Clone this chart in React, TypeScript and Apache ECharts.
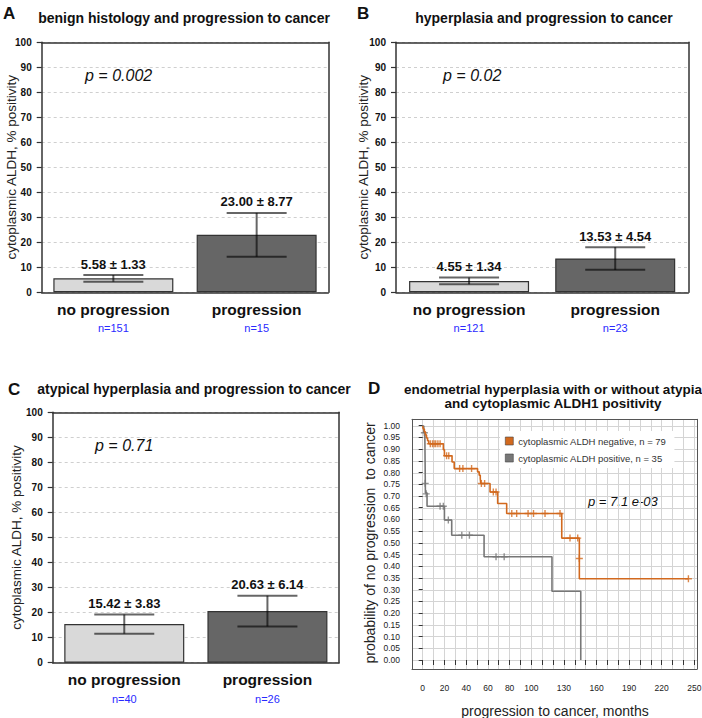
import React, { useEffect, useRef } from 'react';
import * as echarts from 'echarts';

const FONT = '"Liberation Sans", Arial, Helvetica, sans-serif';

// ---- bar panels data ----
const categories = ['no progression', 'progression'];
const nA = ['n=151', 'n=15'];
const meanA = [5.58, 23.0];
const sdA = [1.33, 8.77];
const nB = ['n=121', 'n=23'];
const meanB = [4.55, 13.53];
const sdB = [1.34, 4.54];
const nC = ['n=40', 'n=26'];
const meanC = [15.42, 20.63];
const sdC = [3.83, 6.14];
const barColors = ['#d9d9d9', '#666666'];
const titlesABC = [
  'benign histology and progression to cancer',
  'hyperplasia and progression to cancer',
  'atypical hyperplasia and progression to cancer',
];
const pTexts = ['p = 0.002', 'p = 0.02', 'p = 0.71', 'p = 7.1 e-03'];
const yNameBar = 'cytoplasmic ALDH, % positivity';

// ---- Kaplan-Meier panel data ----
const kmNegative: number[][] = [
  [0, 1.0], [0.5, 0.987], [1.5, 0.975], [2.5, 0.962], [3.5, 0.949], [4.5, 0.937], [5.5, 0.924],
  [19, 0.899], [20, 0.873], [27, 0.846], [29, 0.818], [50.5, 0.804], [52, 0.79], [53, 0.775],
  [53.5, 0.754], [62, 0.718], [69, 0.669], [77.3, 0.626], [128, 0.521], [144.2, 0.347], [244.6, 0.347],
];
const kmPositive: number[][] = [
  [0, 1.0], [1, 0.971], [2, 0.943], [2.5, 0.714], [4, 0.657], [20, 0.598], [26.7, 0.533],
  [56.5, 0.441], [119, 0.294], [145.5, 0.0],
];
const censorNegative: number[][] = [
  [7, 0.924], [9, 0.924], [10.5, 0.924], [12, 0.924], [14, 0.924], [16, 0.924],
  [22, 0.873], [24, 0.873], [34, 0.818], [37, 0.818], [45, 0.818], [54, 0.754], [57, 0.754],
  [65, 0.718], [67.5, 0.718], [82, 0.626], [86.5, 0.626], [97, 0.626], [102, 0.626], [112.6, 0.626],
  [126.4, 0.626], [135.6, 0.521], [142.7, 0.521], [144.2, 0.434], [244.6, 0.347],
];
const censorPositive: number[][] = [
  [1.5, 0.971], [2.3, 0.755], [3.2, 0.71], [16, 0.657], [19, 0.657], [23.6, 0.598],
  [36, 0.533], [43, 0.533], [67.5, 0.441], [75, 0.441],
];
const xLabelsD = [0, 20, 40, 60, 80, 100, 130, 160, 190, 220, 250];
const legendD = ['cytoplasmic ALDH negative, n = 79', 'cytoplasmic ALDH positive, n = 35'];
const colorNeg = '#d2691e';
const colorPos = '#777777';

const PLUS = 'path://M4,0H6V4H10V6H6V10H4V6H0V4H4Z';

function txt(text: string, x: number, y: number, size: number, opts: any = {}) {
  const align = opts.align || 'left';
  return {
    type: 'text',
    x,
    y,
    silent: true,
    style: {
      text,
      fontSize: size,
      fontFamily: FONT,
      fontWeight: opts.weight || 'normal',
      fontStyle: opts.italic ? 'italic' : 'normal',
      fill: opts.color || '#111',
      textAlign: align,
      align,
      textVerticalAlign: 'middle',
      verticalAlign: 'middle',
    },
  };
}

// frame axis helper: draws only an axis line (box edge) above everything
function frameX(gridIndex: number, position: string, type: string, extra: any, line: any) {
  return {
    type,
    gridIndex,
    position,
    ...extra,
    axisLine: { ...line, onZero: false },
    axisTick: { show: false },
    axisLabel: { show: false },
    splitLine: { show: false },
    z: 10,
  };
}

export default function App() {
  const ref = useRef<HTMLDivElement>(null);
  useEffect(() => {
    if (!ref.current) return;
    const chart = echarts.init(ref.current, undefined, { renderer: 'svg' });

    const panels = [
      { grid: { left: 41.7, top: 42.3, width: 286.6, height: 250 }, mean: meanA, sd: sdA, n: nA, nameGap: 23 },
      { grid: { left: 396, top: 42.3, width: 292.3, height: 250 }, mean: meanB, sd: sdB, n: nB, nameGap: 26 },
      { grid: { left: 52.7, top: 412.3, width: 286.3, height: 250.4 }, mean: meanC, sd: sdC, n: nC, nameGap: 29 },
    ];

    const grids: any[] = [];
    const xAxes: any[] = [];
    const yAxes: any[] = [];
    const series: any[] = [];
    const boxLine = { show: true, lineStyle: { color: '#333', width: 1.5 } };

    panels.forEach((p, i) => {
      grids.push({
        ...p.grid,
        show: false,
        outerBoundsMode: 'none',
        containLabel: false,
      });
      xAxes.push({
        type: 'category',
        gridIndex: i,
        data: categories,
        axisTick: { show: false },
        axisLine: { show: false },
        axisLabel: {
          interval: 0,
          margin: 7,
          formatter: (v: string, idx: number) => `{a|${v}}\n{b|${p.n[idx]}}`,
          rich: {
            a: { fontSize: 15.5, fontWeight: 'bold', color: '#111', lineHeight: 20, fontFamily: FONT },
            b: { fontSize: 11, color: '#2a2aff', lineHeight: 18, fontFamily: FONT },
          },
        },
      });
      yAxes.push({
        type: 'value',
        gridIndex: i,
        min: 0,
        max: 100,
        interval: 10,
        axisLine: { show: false },
        axisTick: { show: true, length: 5, lineStyle: { color: '#333', width: 1.2 } },
        axisLabel: { fontSize: 10, fontWeight: 'bold', color: '#111', margin: 10, fontFamily: FONT },
        splitLine: { show: true, lineStyle: { type: [3, 3], color: '#cfcfcf', width: 1 } },
        name: yNameBar,
        nameLocation: 'middle',
        nameGap: p.nameGap,
        nameMoveOverlap: false,
        nameTextStyle: { fontSize: 13.5, color: '#222', fontFamily: FONT },
      });
      series.push({
        type: 'bar',
        xAxisIndex: i,
        yAxisIndex: i,
        barWidth: 120,
        data: p.mean.map((v, j) => ({ value: v, itemStyle: { color: barColors[j] } })),
        itemStyle: { borderColor: '#333', borderWidth: 1.2 },
        silent: true,
      });
      series.push({
        type: 'custom',
        xAxisIndex: i,
        yAxisIndex: i,
        silent: true,
        z: 5,
        data: p.mean.map((m, j) => [j, m, p.sd[j]]),
        encode: { x: 0, y: 1 },
        renderItem: (params: any, api: any) => {
          const idx = api.value(0);
          const m = api.value(1);
          const s = api.value(2);
          const top = api.coord([idx, m + s]);
          const bot = api.coord([idx, m - s]);
          const hw = 30;
          const st = { stroke: 'rgba(0,0,0,0.6)', lineWidth: 2 };
          return {
            type: 'group',
            children: [
              { type: 'line', shape: { x1: top[0], y1: top[1], x2: bot[0], y2: bot[1] }, style: st },
              { type: 'line', shape: { x1: top[0] - hw, y1: top[1], x2: top[0] + hw, y2: top[1] }, style: st },
              { type: 'line', shape: { x1: bot[0] - hw, y1: bot[1], x2: bot[0] + hw, y2: bot[1] }, style: st },
              {
                type: 'text',
                x: top[0],
                y: top[1] - 11,
                style: {
                  text: `${m.toFixed(2)} ± ${s.toFixed(2)}`,
                  fontSize: 13,
                  fontWeight: 'bold',
                  fontFamily: FONT,
                  fill: '#111',
                  textAlign: 'center',
                  align: 'center',
                  textVerticalAlign: 'middle',
                  verticalAlign: 'middle',
                },
              },
            ],
          };
        },
      });
    });

    // Panel D: box grid (index 3) for data and grid lines
    grids.push({
      left: 412,
      top: 419.3,
      width: 285,
      height: 249.7,
      show: false,
      outerBoundsMode: 'none',
      containLabel: false,
    });
    const dxIdx = xAxes.length;
    xAxes.push({
      type: 'value',
      gridIndex: 3,
      min: -9.85,
      max: 252.5,
      minInterval: 10,
      maxInterval: 10,
      splitNumber: 26,
      axisLine: { show: false },
      axisTick: { show: false },
      axisLabel: { show: false },
      splitLine: { show: true, lineStyle: { color: '#d4d4d4', width: 1 } },
    });
    const dyIdx = yAxes.length;
    yAxes.push({
      type: 'value',
      gridIndex: 3,
      min: -0.0384,
      max: 1.0286,
      minInterval: 0.05,
      maxInterval: 0.05,
      splitNumber: 21,
      axisLine: { show: false },
      axisTick: { show: false },
      axisLabel: { show: false },
      splitLine: { show: true, lineStyle: { color: '#d4d4d4', width: 1 } },
    });
    // Panel D: axis grid (index 4) for ticks and labels
    grids.push({
      left: 422.7,
      top: 425.7,
      width: 271.6,
      height: 234.3,
      show: false,
      outerBoundsMode: 'none',
      containLabel: false,
    });
    xAxes.push({
      type: 'value',
      gridIndex: 4,
      min: 0,
      max: 250,
      interval: 10,
      offset: 9,
      axisLine: { show: false },
      axisTick: { show: true, length: 5, lineStyle: { color: '#333', width: 1 } },
      axisLabel: {
        fontSize: 8.5,
        color: '#222',
        margin: 14,
        fontFamily: FONT,
        formatter: (v: number) => (xLabelsD.indexOf(Math.round(v)) >= 0 ? String(Math.round(v)) : ''),
      },
      splitLine: { show: false },
    });
    yAxes.push({
      type: 'value',
      gridIndex: 4,
      min: 0,
      max: 1,
      interval: 0.05,
      offset: 10.7,
      axisLine: { show: false },
      axisTick: { show: true, length: 4, lineStyle: { color: '#333', width: 1 } },
      axisLabel: {
        fontSize: 8.5,
        color: '#222',
        margin: 12,
        fontFamily: FONT,
        formatter: (v: number) => v.toFixed(2),
      },
      splitLine: { show: false },
      name: 'probability of no progression  to cancer',
      nameLocation: 'middle',
      nameGap: 35,
      nameMoveOverlap: false,
      nameTextStyle: { fontSize: 14, color: '#222', fontFamily: FONT },
    });

    // frame lines (box edges) drawn on top
    panels.forEach((p, i) => {
      xAxes.push(frameX(i, 'top', 'category', { data: categories }, boxLine));
      xAxes.push(frameX(i, 'bottom', 'category', { data: categories }, boxLine));
      yAxes.push(frameX(i, 'left', 'value', { min: 0, max: 100 }, boxLine));
      yAxes.push(frameX(i, 'right', 'value', { min: 0, max: 100 }, boxLine));
    });
    const dFrame = { show: true, lineStyle: { color: '#555', width: 1 } };
    xAxes.push(frameX(3, 'top', 'value', { min: 0, max: 1 }, dFrame));
    xAxes.push(frameX(3, 'bottom', 'value', { min: 0, max: 1 }, dFrame));
    yAxes.push(frameX(3, 'left', 'value', { min: 0, max: 1 }, dFrame));
    yAxes.push(frameX(3, 'right', 'value', { min: 0, max: 1 }, dFrame));

    series.push({
      type: 'line',
      name: legendD[0],
      xAxisIndex: dxIdx,
      yAxisIndex: dyIdx,
      step: 'end',
      data: kmNegative,
      symbol: 'none',
      color: colorNeg,
      lineStyle: { color: colorNeg, width: 1.6 },
      itemStyle: { color: colorNeg },
      silent: true,
      z: 3,
    });
    series.push({
      type: 'line',
      name: legendD[1],
      xAxisIndex: dxIdx,
      yAxisIndex: dyIdx,
      step: 'end',
      data: kmPositive,
      symbol: 'none',
      color: colorPos,
      lineStyle: { color: colorPos, width: 1.6 },
      itemStyle: { color: colorPos },
      silent: true,
      z: 2,
    });
    series.push({
      type: 'scatter',
      xAxisIndex: dxIdx,
      yAxisIndex: dyIdx,
      data: censorNegative,
      symbol: PLUS,
      symbolSize: 7,
      itemStyle: { color: colorNeg },
      silent: true,
      z: 3,
    });
    series.push({
      type: 'scatter',
      xAxisIndex: dxIdx,
      yAxisIndex: dyIdx,
      data: censorPositive,
      symbol: PLUS,
      symbolSize: 7,
      itemStyle: { color: colorPos },
      silent: true,
      z: 2,
    });

    const graphics: any[] = [
      txt('A', 3, 13, 17, { weight: 'bold' }),
      txt('B', 357, 13, 17, { weight: 'bold' }),
      txt('C', 8, 389, 17, { weight: 'bold' }),
      txt('D', 368, 388, 17, { weight: 'bold' }),
      txt(titlesABC[0], 184, 17.5, 14, { weight: 'bold', align: 'center' }),
      txt(titlesABC[1], 544, 17.5, 14, { weight: 'bold', align: 'center' }),
      txt(titlesABC[2], 194, 389, 14, { weight: 'bold', align: 'center' }),
      txt('endometrial hyperplasia with or without atypia', 553, 389, 13.5, { weight: 'bold', align: 'center' }),
      txt('and cytoplasmic ALDH1 positivity', 553, 403.5, 13.5, { weight: 'bold', align: 'center' }),
      txt(pTexts[0], 85, 75, 16, { italic: true }),
      txt(pTexts[1], 443, 75, 16, { italic: true }),
      txt(pTexts[2], 95, 445, 16, { italic: true }),
      txt(pTexts[3], 588, 501.7, 13, { italic: true }),
      txt('progression to cancer, months', 555, 710.5, 14, { align: 'center', color: '#222' }),
    ];

    chart.setOption({
      animation: false,
      backgroundColor: '#ffffff',
      grid: grids,
      xAxis: xAxes,
      yAxis: yAxes,
      series,
      legend: {
        data: legendD,
        orient: 'vertical',
        left: 500,
        top: 431,
        padding: [5, 8, 5, 5],
        backgroundColor: '#ffffff',
        itemWidth: 8,
        itemHeight: 8,
        itemGap: 7,
        icon: 'rect',
        selectedMode: false,
        itemStyle: { borderColor: '#444', borderWidth: 0.6 },
        textStyle: { fontSize: 9.5, color: '#333', fontFamily: FONT },
      },
      graphic: graphics,
    });
    return () => chart.dispose();
  }, []);
  return <div ref={ref} style={{ position: 'fixed', left: 0, top: 0, width: 702, height: 718, background: '#fff' }} />;
}
